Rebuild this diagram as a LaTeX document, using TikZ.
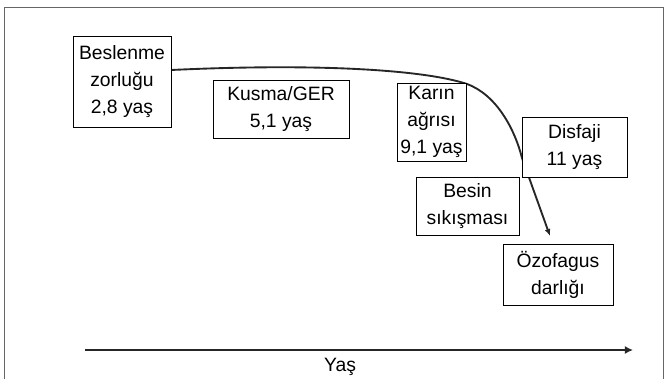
\documentclass[tikz,border=0pt]{standalone}
\usepackage{fontspec}
\setmainfont{Liberation Sans}
\usetikzlibrary{positioning,arrows.meta}

\begin{document}
\begin{tikzpicture}[x=0.03cm, y=-0.03cm]
    \tikzstyle{event} = [rectangle, draw, fill=white, line width=0.8pt, inner sep=0pt, align=center, font=\fontsize{16.5}{23}\selectfont]
    \tikzstyle{course} = [line width=1.6pt, black!85, -{Latex[length=6pt, width=5pt]}]
    \tikzstyle{agearrow} = [line width=2.4pt, black!85, -{Latex[length=7pt, width=7pt]}]

    \useasboundingbox (0,0) rectangle (667,379);
    % outer frame
    \draw[black!60, line width=0.8pt] (4,379) -- (4,7) -- (663,7) -- (663,379);

    % course of symptoms (drawn first, boxes cover it)
    \coordinate (start) at (171,70);
    \coordinate (knee) at (467,84);
    \coordinate (bend) at (522,158);
    \coordinate (tip) at (550,236);
    \draw[course] (start) .. controls (320,63) and (425,70) .. (knee)
        .. controls (497,95) and (515,130) .. (bend) -- (tip);

    % Beslenme zorluğu
    \node[event, minimum width=98*0.03cm, minimum height=91*0.03cm] (besl) at (122,81.5) {Beslenme\\zorluğu\\2,8 yaş};

    % Kusma/GER
    \node[event, minimum width=136*0.03cm, minimum height=58*0.03cm] (kusma) at (281,109) {Kusma/GER\\5,1 yaş};

    % Karın ağrısı
    \node[event, minimum width=69*0.03cm, minimum height=78*0.03cm] (karin) at (431.5,122) {Karın\\ağrısı\\9,1 yaş};

    % Disfaji
    \node[event, minimum width=105*0.03cm, minimum height=60*0.03cm] (disfaji) at (574.5,147) {Disfaji\\11 yaş};

    % Besin sıkışması
    \node[event, minimum width=103*0.03cm, minimum height=58*0.03cm] (besin) at (467.5,206) {Besin\\sıkışması};

    % Özofagus darlığı
    \node[event, minimum width=110*0.03cm, minimum height=61*0.03cm] (ozo) at (558,274.5) {Özofagus\\darlığı};

    % age axis
    \coordinate (axstart) at (85,350);
    \coordinate (axend) at (633,350);
    \draw[agearrow] (axstart) -- (axend);
    \node[font=\fontsize{16.5}{20}\selectfont] (yas) at (340,367) {Yaş};

\end{tikzpicture}
\end{document}
